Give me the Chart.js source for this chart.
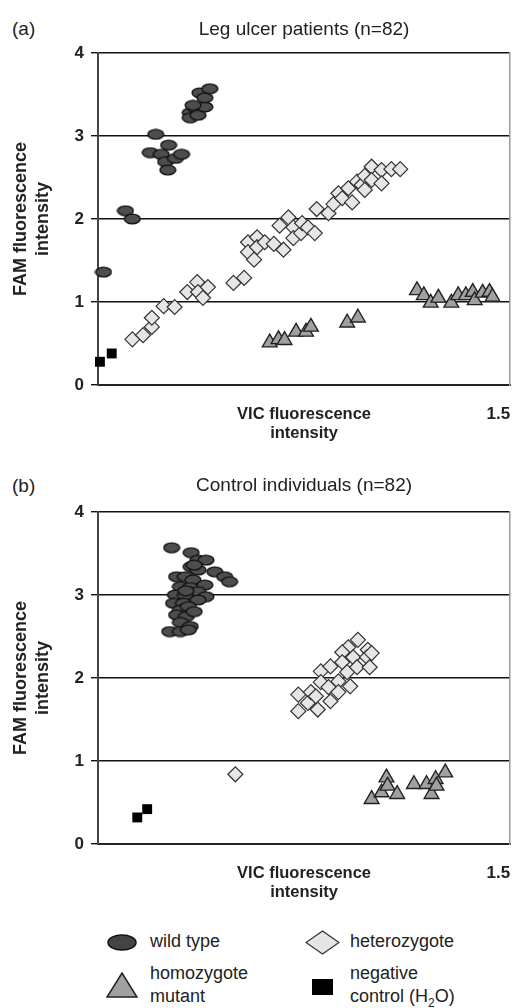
<!DOCTYPE html>
<html>
<head>
<meta charset="utf-8">
<script src="https://cdn.jsdelivr.net/npm/chart.js@4.4.0/dist/chart.umd.min.js"></script>
<style>
    html, body { margin: 0; padding: 0; background: #fff; }
    body { width: 520px; height: 1008px; position: relative; overflow: hidden;
           font-family: 'Liberation Sans', Arial, sans-serif; color: #222; }
    .painel { position: absolute; left: 0; }
    #painelA { top: 0; }
    #painelB { top: 459px; }
    .letra { position: absolute; left: 12px; font-size: 19px; line-height: 22px; }
    .item { position: absolute; font-size: 18px; line-height: 23px; white-space: nowrap; }
    .marca { position: absolute; }
</style>
</head>
<body>
<div class="letra" style="top:18px">(a)</div>
<div class="letra" style="top:475px">(b)</div>
<canvas id="painelA" class="painel" width="520" height="450"></canvas>
<canvas id="painelB" class="painel" width="520" height="450"></canvas>

<svg class="marca" style="left:107px;top:934px" width="30" height="17"><ellipse cx="15" cy="8.5" rx="14" ry="7.5" fill="#444" stroke="#111" stroke-width="1.5"/></svg>
<div class="item" style="left:150px;top:930px">wild type</div>
<svg class="marca" style="left:305px;top:930px" width="35" height="25"><polygon points="17.5,1 34,12.5 17.5,24 1,12.5" fill="#e6e6e6" stroke="#333" stroke-width="1.3"/></svg>
<div class="item" style="left:350px;top:930px">heterozygote</div>
<svg class="marca" style="left:106px;top:972px" width="32" height="26"><polygon points="16,1 31,25 1,25" fill="#a0a0a0" stroke="#222" stroke-width="1.5"/></svg>
<div class="item" style="left:150px;top:962px">homozygote<br>mutant</div>
<svg class="marca" style="left:312px;top:979px" width="21" height="16"><rect x="0" y="0" width="21" height="16" fill="#000"/></svg>
<div class="item" style="left:350px;top:962px">negative<br>control (H<sub style="font-size:12px;line-height:0">2</sub>O)</div>

<script>
var genotipos = ['wild type', 'heterozygote', 'homozygote mutant', 'negative control (H2O)'];
var yTicks = [0, 1, 2, 3, 4];
var xTicks = [1.5];
var titulos = ['Leg ulcer patients (n=82)', 'Control individuals (n=82)'];

// (a) pacientes com ulcera
var ulcerWildType = [[0.02, 1.36], [0.10, 2.10], [0.125, 2.00], [0.19, 2.80], [0.23, 2.78], [0.257, 2.89],
    [0.21, 3.02], [0.246, 2.69], [0.254, 2.59], [0.282, 2.73], [0.304, 2.78], [0.336, 3.28], [0.354, 3.34],
    [0.336, 3.22], [0.364, 3.25], [0.389, 3.35], [0.371, 3.52], [0.389, 3.46], [0.407, 3.57], [0.346, 3.37]];
var ulcerHeterozygote = [[0.125, 0.55], [0.164, 0.60], [0.196, 0.70], [0.196, 0.81], [0.239, 0.95], [0.279, 0.94],
    [0.325, 1.12], [0.361, 1.24], [0.364, 1.12], [0.382, 1.05], [0.40, 1.18], [0.493, 1.23], [0.532, 1.29],
    [0.546, 1.72], [0.546, 1.60], [0.568, 1.51], [0.579, 1.78], [0.579, 1.66], [0.607, 1.72], [0.64, 1.70],
    [0.661, 1.92], [0.675, 1.63], [0.693, 2.02], [0.711, 1.90], [0.711, 1.77], [0.739, 1.83], [0.743, 1.95],
    [0.764, 1.90], [0.789, 1.83], [0.796, 2.12], [0.839, 2.07], [0.857, 2.18], [0.875, 2.31], [0.889, 2.25],
    [0.911, 2.37], [0.925, 2.20], [0.943, 2.45], [0.96, 2.41], [0.971, 2.52], [0.971, 2.35], [0.996, 2.63],
    [0.996, 2.47], [1.032, 2.59], [1.032, 2.43], [1.068, 2.60], [1.10, 2.60]];
var ulcerHomozygote = [[0.625, 0.51], [0.657, 0.55], [0.679, 0.54], [0.721, 0.64], [0.757, 0.64], [0.775, 0.70],
    [0.907, 0.75], [0.946, 0.81], [1.161, 1.14], [1.186, 1.08], [1.211, 0.99], [1.239, 1.05], [1.286, 0.99],
    [1.311, 1.08], [1.339, 1.08], [1.364, 1.12], [1.371, 1.02], [1.40, 1.11], [1.425, 1.12], [1.436, 1.06]];
var ulcerNegative = [[0.007, 0.28], [0.05, 0.38]];

// (b) controles
var controlWildType = [[0.268, 3.57], [0.339, 3.51], [0.364, 3.42], [0.393, 3.42], [0.339, 3.34], [0.364, 3.30],
    [0.425, 3.28], [0.461, 3.22], [0.479, 3.16], [0.286, 3.22], [0.318, 3.22], [0.346, 3.18], [0.389, 3.12],
    [0.30, 3.10], [0.336, 3.09], [0.364, 3.04], [0.282, 3.00], [0.318, 3.00], [0.393, 2.98], [0.275, 2.90],
    [0.311, 2.90], [0.364, 2.94], [0.30, 2.82], [0.329, 2.86], [0.286, 2.76], [0.321, 2.74], [0.30, 2.67],
    [0.336, 2.62], [0.261, 2.56], [0.30, 2.56], [0.329, 2.58], [0.35, 3.36], [0.32, 3.05], [0.35, 2.80]];
var controlHeterozygote = [[0.946, 2.46], [0.911, 2.37], [0.982, 2.34], [0.889, 2.31], [0.729, 1.80], [0.729, 1.60],
    [0.764, 1.70], [0.775, 1.83], [0.80, 1.62], [0.811, 2.08], [0.811, 1.95], [0.846, 2.14], [0.846, 1.72],
    [0.839, 1.89], [0.875, 1.96], [0.875, 1.83], [0.889, 2.19], [0.907, 2.07], [0.918, 1.90], [0.929, 2.25],
    [0.943, 2.13], [0.979, 2.25], [0.989, 2.13], [0.996, 2.30], [0.793, 1.78], [0.50, 0.84]];
var controlHomozygote = [[0.996, 0.54], [1.032, 0.62], [1.05, 0.80], [1.054, 0.70], [1.089, 0.60], [1.15, 0.72],
    [1.196, 0.72], [1.214, 0.60], [1.229, 0.78], [1.232, 0.70], [1.264, 0.86]];
var controlNegative = [[0.143, 0.32], [0.179, 0.42]];

var Genotipagem = Genotipagem || {};

Chart.defaults.font.family = "'Liberation Sans', Arial, sans-serif";
Chart.defaults.color = '#222';

Genotipagem.CriarElipse = function () {
    var c = document.createElement('canvas');
    c.width = 18;
    c.height = 12;
    var ctx = c.getContext('2d');
    ctx.beginPath();
    ctx.ellipse(9, 6, 7.9, 4.9, 0, 0, Math.PI * 2);
    ctx.fillStyle = '#4d4d4d';
    ctx.fill();
    ctx.lineWidth = 1.4;
    ctx.strokeStyle = '#111';
    ctx.stroke();
    return c;
};

Genotipagem.ParaPontos = function (lista) {
    return lista.map(function (p) { return { x: p[0], y: p[1] }; });
};

Genotipagem.CriarGrafico = function (idCanvas, titulo, series, padTitulo) {
    var elipse = Genotipagem.CriarElipse();
    var ctx = document.getElementById(idCanvas).getContext('2d');

    var estilos = [
        { pointStyle: elipse, radius: 7, bg: '#4d4d4d', borda: '#111', largura: 1.4 },
        { pointStyle: 'rectRot', radius: 7.5, bg: '#e6e6e6', borda: '#333', largura: 1.2 },
        { pointStyle: 'triangle', radius: 8.5, bg: '#a0a0a0', borda: '#222', largura: 1.4 },
        { pointStyle: 'rect', radius: 7, bg: '#000', borda: '#000', largura: 0 }
    ];

    return new Chart(ctx, {
        type: 'scatter',
        data: {
            datasets: series.map(function (s, i) {
                return {
                    label: genotipos[i],
                    data: Genotipagem.ParaPontos(s),
                    pointStyle: estilos[i].pointStyle,
                    pointRadius: estilos[i].radius,
                    pointBackgroundColor: estilos[i].bg,
                    pointBorderColor: estilos[i].borda,
                    pointBorderWidth: estilos[i].largura,
                    clip: false
                };
            })
        },
        options: {
            responsive: false,
            animation: false,
            events: [],
            layout: { padding: 0 },
            plugins: {
                legend: { display: false },
                tooltip: { enabled: false },
                title: {
                    display: true,
                    text: titulo,
                    fullSize: false,
                    color: '#222',
                    font: { size: 19, weight: 'normal', lineHeight: '22.8px' },
                    padding: { top: padTitulo, bottom: 53 - padTitulo - 22.8 }
                }
            },
            scales: {
                x: {
                    type: 'linear',
                    min: 0,
                    max: 1.5,
                    afterBuildTicks: function (s) {
                        s.ticks = xTicks.map(function (v) { return { value: v }; });
                    },
                    afterFit: function (s) {
                        s.height = 65;
                        // o rotulo 1.5 fica dentro da area, sem recuo lateral
                        s.paddingLeft = 0;
                        s.paddingRight = 0;
                    },
                    ticks: {
                        align: 'end',
                        padding: 19,
                        color: '#222',
                        font: { size: 17, weight: 'bold' },
                        callback: function (valor) { return String(valor); }
                    },
                    grid: { drawOnChartArea: false, drawTicks: false },
                    border: { color: '#222', width: 2 },
                    title: {
                        display: true,
                        text: ['VIC fluorescence', 'intensity'],
                        color: '#222',
                        font: { size: 16.5, weight: 'bold', lineHeight: '19px' },
                        padding: { top: 0, bottom: 7.5 }
                    }
                },
                y: {
                    min: 0,
                    max: 4,
                    afterBuildTicks: function (s) {
                        s.ticks = yTicks.map(function (v) { return { value: v }; });
                    },
                    afterFit: function (s) { s.width = 98; },
                    ticks: {
                        padding: 7,
                        color: '#222',
                        font: { size: 17, weight: 'bold' },
                        callback: function (valor) { return String(valor); }
                    },
                    grid: { color: '#111', lineWidth: 1.4, tickLength: 7 },
                    border: { color: '#444', width: 2 },
                    title: {
                        display: true,
                        text: ['FAM fluorescence', 'intensity'],
                        color: '#222',
                        font: { size: 18, weight: 'bold', lineHeight: '22px' },
                        padding: { top: 10, bottom: 0 }
                    }
                },
                y2: {
                    position: 'right',
                    min: 0,
                    max: 4,
                    afterFit: function (s) { s.width = 2; },
                    ticks: { display: false },
                    grid: { drawOnChartArea: false, drawTicks: false },
                    border: { color: '#999', width: 1.5 }
                }
            }
        }
    });
};

Genotipagem.CriarGrafico('painelA', titulos[0],
    [ulcerWildType, ulcerHeterozygote, ulcerHomozygote, ulcerNegative], 18.6);
Genotipagem.CriarGrafico('painelB', titulos[1],
    [controlWildType, controlHeterozygote, controlHomozygote, controlNegative], 15.6);
</script>
</body>
</html>
